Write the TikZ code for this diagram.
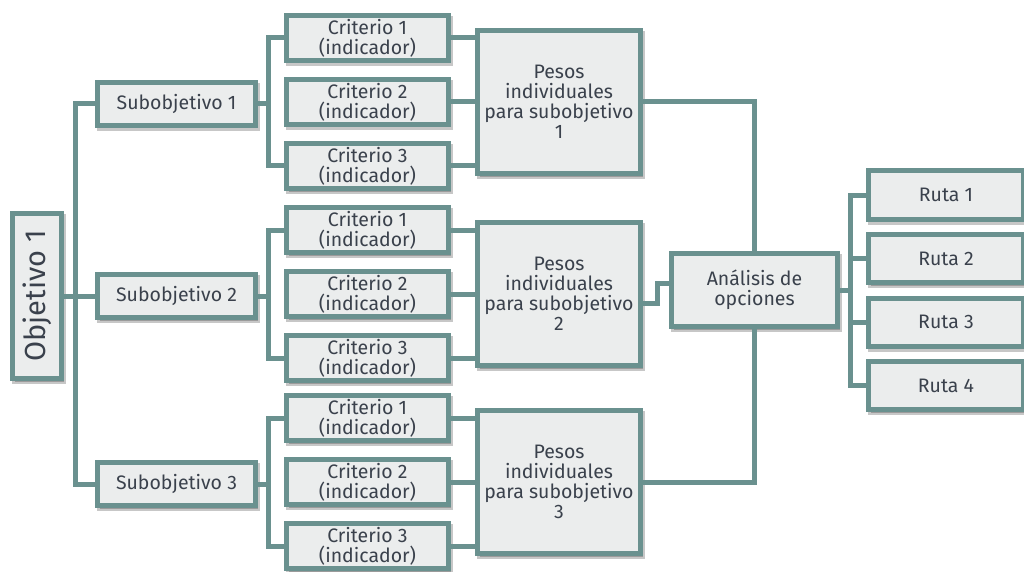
\documentclass[tikz,border=0pt]{standalone}
\usepackage{graphicx}
\usepackage{fontspec}
\setmainfont{Fira Sans}
\usetikzlibrary{shadows}
\definecolor{rim}{RGB}{106,145,143}
\definecolor{pale}{RGB}{235,237,237}
\definecolor{ink}{RGB}{58,65,76}

\begin{document}
\begin{tikzpicture}[x=1pt,y=-1pt]
\tikzstyle{every node}+=[inner sep=0pt]
\tikzstyle{box}=[draw=rim, line width=5pt, fill=pale, text=ink, align=center,
  font=\fontsize{19.5}{20}\selectfont,
  drop shadow={shadow xshift=2pt, shadow yshift=-3pt, fill=black, draw=black, opacity=0.22}]
\tikzstyle{link}=[draw=rim, line width=5pt]
\useasboundingbox (0,0) rectangle (1024,572);
% objective
\node[box, minimum width=49pt, minimum height=165pt] (obj) at (37,296)
  {\rotatebox{90}{\fontsize{29}{30}\selectfont Objetivo 1}};
% three branches
\foreach \g/\y in {1/102,2/294,3/482} {
  \node[box, minimum width=158pt, minimum height=43pt] (sub\g) at (176.5,\y+2) {Subobjetivo \g};
  \node[box, minimum width=162pt, minimum height=45pt] (c\g1) at (367.5,\y-64) {Criterio 1\\(indicador)};
  \node[box, minimum width=162pt, minimum height=45pt] (c\g2) at (367.5,\y) {Criterio 2\\(indicador)};
  \node[box, minimum width=162pt, minimum height=45pt] (c\g3) at (367.5,\y+64) {Criterio 3\\(indicador)};
  \node[box, minimum width=163pt, minimum height=143pt] (p\g) at (559,\y) {Pesos\\individuales\\para subobjetivo\\\g};
  \draw[link] (sub\g.east) -- (sub\g.east -| 271,0);
  \draw[link] (c\g1.west) -- ++(-15.5,0) |- (c\g3.west);
  \draw[link] (c\g1.east) -- (c\g1.east -| p\g.west);
  \draw[link] (c\g2.east) -- (c\g2.east -| p\g.west);
  \draw[link] (c\g3.east) -- (c\g3.east -| p\g.west);
}
\draw[link] (sub1.west) -- ++(-19.5,0) |- (sub3.west);
\draw[link] (obj.east) -- (sub2.west);
% options
\node[box, minimum width=166pt, minimum height=73pt] (ana) at (754.5,290) {Análisis de\\opciones};
\draw[link] (p1.east) -| (ana.north);
\draw[link] (p3.east) -| (ana.south);
\draw[link] (p2.east) ++(0,9) -- ++(14,0) -- ++(0,-20) -- (ana.west |- 0,283);
% routes
\node[box, minimum width=155pt, minimum height=48pt] (r1) at (946,195) {Ruta 1};
\node[box, minimum width=155pt, minimum height=48pt] (r2) at (946,258.5) {Ruta 2};
\node[box, minimum width=155pt, minimum height=48pt] (r3) at (946,322) {Ruta 3};
\node[box, minimum width=155pt, minimum height=48pt] (r4) at (946,385.5) {Ruta 4};
\draw[link] (ana.east) -- (ana.east -| 853,0);
\draw[link] (r1.west) -- ++(-15.5,0) |- (r4.west);
\draw[link] (r2.west) -- ++(-15.5,0);
\draw[link] (r3.west) -- ++(-15.5,0);
\end{tikzpicture}
\end{document}
